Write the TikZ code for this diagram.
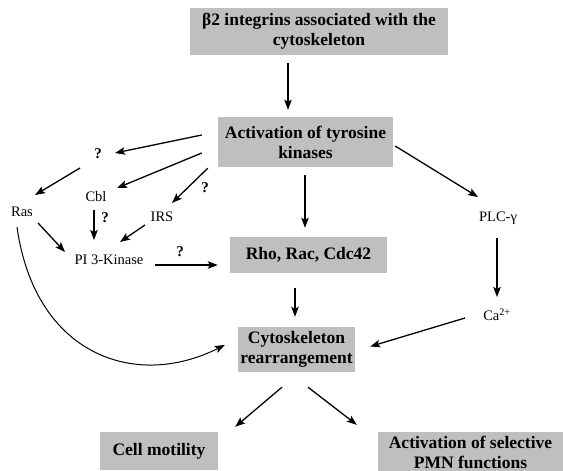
\documentclass[tikz,border=0pt]{standalone}
\usepackage{fontspec}
\setmainfont{Liberation Serif}
\usetikzlibrary{arrows.meta}
\definecolor{boxGray}{HTML}{BFBFBF}

\begin{document}
\begin{tikzpicture}[x=1pt,y=-1pt,
  box/.style={fill=boxGray,inner sep=1pt,align=center,font=\fontsize{17.5}{20}\selectfont\bfseries},
  lbl/.style={inner sep=1pt,font=\fontsize{14.5}{16}\selectfont},
  qm/.style={inner sep=1pt,font=\fontsize{15}{16}\selectfont\bfseries},
  arr/.style={-{Stealth[length=10pt,width=7.5pt,inset=2pt]},line width=1.3pt}]
\useasboundingbox (0,0) rectangle (563,471);
% boxes
\node[box,minimum width=258pt,minimum height=47pt] (integrins) at (319,31.5) {β2 integrins associated with the\\cytoskeleton};
\node[box,minimum width=175pt,minimum height=50pt] (tyrosine) at (305.5,142) {Activation of tyrosine\\kinases};
\node[box,minimum width=157pt,minimum height=36pt] (rho) at (308.5,255) {Rho, Rac, Cdc42};
\node[box,minimum width=117pt,minimum height=45pt] (cyto) at (296.5,349.5) {Cytoskeleton\\rearrangement};
\node[box,minimum width=118pt,minimum height=38pt] (motility) at (159,451) {Cell motility};
\node[box,minimum width=185pt,minimum height=40pt] (selective) at (470.5,452) {Activation of selective\\PMN functions};
% small labels
\foreach \n/\x/\y/\lab in {ras/22/212/Ras,cbl/96/197/Cbl,irs/162/217/IRS,pik/109/260/PI 3-Kinase,
    plc/498/218/PLC-γ,ca/497/315/Ca\textsuperscript{2+}}
  \node[lbl] (\n) at (\x,\y) {\lab};
\foreach \n/\x/\y in {q1/98/154,q2/105/218,q3/205/188,q4/180/252}
  \node[qm] (\n) at (\x,\y) {?};
% arrows
\draw[arr] ([shift={(-31,8)}]integrins.south) -- ([shift={(-17.5,-7)}]tyrosine.north);
\draw[arr] ([shift={(-16,-7)}]tyrosine.west) -- ([shift={(17,-1)}]q1.center);
\draw[arr] ([shift={(-16,11)}]tyrosine.west) -- ([shift={(21,-9)}]cbl.center);
\draw[arr] ([shift={(-10,1)}]tyrosine.south west) -- ([shift={(10,-14)}]irs.center);
\draw[arr] ([shift={(-18,14)}]q1.center) -- ([shift={(13,-17)}]ras.center);
\draw[arr] ([shift={(-2,13)}]cbl.center) -- ([shift={(-15,-20)}]pik.center);
\draw[arr] ([shift={(-17,8)}]irs.center) -- ([shift={(11,-18)}]pik.center);
\draw[arr] ([shift={(16,11)}]ras.center) -- ([shift={(-44,-8)}]pik.center);
\draw[arr] ([shift={(46,5)}]pik.center) -- ([shift={(-12,10)}]rho.west);
\draw[arr] ([shift={(-0.5,8)}]tyrosine.south) -- ([shift={(-3.5,-9)}]rho.north);
\draw[arr] ([shift={(2,4)}]tyrosine.east) -- ([shift={(-20,-21)}]plc.center);
\draw[arr] ([shift={(-1,20)}]plc.center) -- ([shift={(0,-18)}]ca.center);
\draw[arr] ([shift={(-32,3)}]ca.center) -- ([shift={(15,-3)}]cyto.east);
\draw[arr] ([shift={(-13.5,15)}]rho.south) -- ([shift={(-1.5,-10)}]cyto.north);
\draw[arr,line width=1pt] ([shift={(-5,15)}]ras.center) .. controls (35,355) and (135,390) .. ([shift={(-13,-4.5)}]cyto.west);
\draw[arr] ([shift={(-14.5,15)}]cyto.south) -- ([shift={(17,-5)}]motility.north east);
\draw[arr] ([shift={(11.5,15)}]cyto.south) -- ([shift={(-21,-7)}]selective.north west);
\end{tikzpicture}
\end{document}
